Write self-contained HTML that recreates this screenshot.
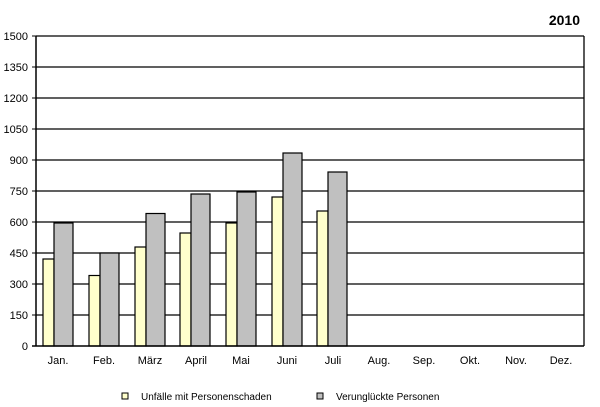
<!DOCTYPE html>
<html><head><meta charset="utf-8"><style>
html,body{margin:0;padding:0;background:#fff;}
svg{display:block;font-family:"Liberation Sans",sans-serif;}
</style></head><body>
<svg width="600" height="407" viewBox="0 0 600 407">
<text x="580" y="25" font-size="14" font-weight="bold" text-anchor="end">2010</text>
<g stroke="#000" stroke-width="1.3">
<line x1="36" y1="36" x2="584" y2="36"/>
<line x1="36" y1="67" x2="584" y2="67"/>
<line x1="36" y1="98" x2="584" y2="98"/>
<line x1="36" y1="129" x2="584" y2="129"/>
<line x1="36" y1="160" x2="584" y2="160"/>
<line x1="36" y1="191" x2="584" y2="191"/>
<line x1="36" y1="222" x2="584" y2="222"/>
<line x1="36" y1="253" x2="584" y2="253"/>
<line x1="36" y1="284" x2="584" y2="284"/>
<line x1="36" y1="315" x2="584" y2="315"/>
<line x1="584" y1="36" x2="584" y2="346"/>
</g>
<g stroke="#000" stroke-width="1">
<line x1="32" y1="36" x2="36" y2="36"/><line x1="32" y1="67" x2="36" y2="67"/><line x1="32" y1="98" x2="36" y2="98"/><line x1="32" y1="129" x2="36" y2="129"/><line x1="32" y1="160" x2="36" y2="160"/><line x1="32" y1="191" x2="36" y2="191"/><line x1="32" y1="222" x2="36" y2="222"/><line x1="32" y1="253" x2="36" y2="253"/><line x1="32" y1="284" x2="36" y2="284"/><line x1="32" y1="315" x2="36" y2="315"/><line x1="32" y1="346" x2="36" y2="346"/>
</g>
<g font-size="11" text-anchor="end" fill="#000">
<text x="28" y="40">1500</text><text x="28" y="71">1350</text><text x="28" y="102">1200</text><text x="28" y="133">1050</text><text x="28" y="164">900</text><text x="28" y="195">750</text><text x="28" y="226">600</text><text x="28" y="257">450</text><text x="28" y="288">300</text><text x="28" y="319">150</text><text x="28" y="350">0</text>
</g>
<g stroke="#000" stroke-width="1.2">
<rect x="43" y="259" width="11" height="87" fill="#ffffcc"/><rect x="54" y="223" width="19" height="123" fill="#c0c0c0"/>
<rect x="89" y="275.5" width="11" height="70.5" fill="#ffffcc"/><rect x="100" y="253" width="19" height="93" fill="#c0c0c0"/>
<rect x="135" y="247" width="11" height="99" fill="#ffffcc"/><rect x="146" y="213.5" width="19" height="132.5" fill="#c0c0c0"/>
<rect x="180" y="233" width="11" height="113" fill="#ffffcc"/><rect x="191" y="194" width="19" height="152" fill="#c0c0c0"/>
<rect x="226" y="223" width="11" height="123" fill="#ffffcc"/><rect x="237" y="192" width="19" height="154" fill="#c0c0c0"/>
<rect x="272" y="197" width="11" height="149" fill="#ffffcc"/><rect x="283" y="153" width="19" height="193" fill="#c0c0c0"/>
<rect x="317" y="211" width="11" height="135" fill="#ffffcc"/><rect x="328" y="172" width="19" height="174" fill="#c0c0c0"/>
</g>
<g stroke="#000" stroke-width="1.5">
<line x1="36" y1="36" x2="36" y2="346"/><line x1="32" y1="346" x2="584" y2="346"/>
</g>
<g font-size="11" text-anchor="middle" fill="#000">
<text x="58" y="364">Jan.</text><text x="104" y="364">Feb.</text><text x="150" y="364">März</text><text x="196" y="364">April</text><text x="241" y="364">Mai</text><text x="287" y="364">Juni</text><text x="333" y="364">Juli</text><text x="379" y="364">Aug.</text><text x="424" y="364">Sep.</text><text x="470" y="364">Okt.</text><text x="516" y="364">Nov.</text><text x="561" y="364">Dez.</text>
</g>
<rect x="122" y="393" width="6" height="6" fill="#ffffcc" stroke="#000" stroke-width="1"/>
<text x="141" y="400" font-size="10">Unfälle mit Personenschaden</text>
<rect x="317" y="393" width="6" height="6" fill="#c0c0c0" stroke="#000" stroke-width="1"/>
<text x="336" y="400" font-size="10">Verunglückte Personen</text>
</svg>
</body></html>
